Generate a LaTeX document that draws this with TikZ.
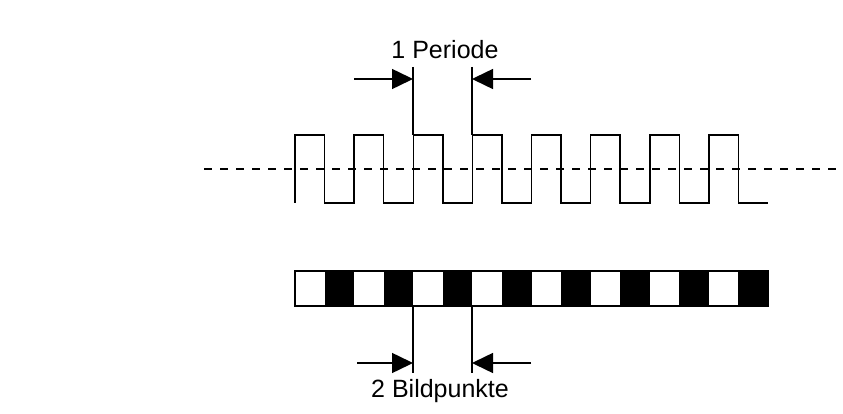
\documentclass[tikz,border=0pt]{standalone}
\usepackage{fontspec}
\setmainfont{Liberation Sans}
\usetikzlibrary{arrows.meta}
\begin{document}
\begin{tikzpicture}[x=1pt,y=-1pt,
  ln/.style={line width=1.5pt},
  dim/.style={line width=1.5pt,-{Triangle[length=21pt,width=20pt]}},
  lbl/.style={font=\fontsize{25}{29}\selectfont,inner sep=0pt}]
\useasboundingbox (0,0) rectangle (843,414);
\def\h{29.5625}
% dashed centre line
\draw[line width=1.6pt,dash pattern=on 8pt off 8pt] (204,169) -- (838,169);
% square wave
\draw[ln] (295,203)
  \foreach \i in {0,...,7}{
    -- ({295+2*\i*\h},135) -- ({295+(2*\i+1)*\h},135)
    -- ({295+(2*\i+1)*\h},203) -- ({295+(2*\i+2)*\h},203)
  };
% pixel bar
\foreach \i in {0,...,7}{
  \fill ({295+(2*\i+1)*\h},271) rectangle ({295+(2*\i+2)*\h},306);
}
\draw[ln] (295,271) rectangle (768,306);
% top dimension
\coordinate (t1a) at (413,67);
\coordinate (t1b) at (413,135);
\coordinate (t2a) at (472,67);
\coordinate (t2b) at (472,135);
\draw[ln] (t1a) -- (t1b);
\draw[ln] (t2a) -- (t2b);
\coordinate (ta) at (354,79);
\coordinate (tat) at (413,79);
\coordinate (tb) at (531,79);
\coordinate (tbt) at (472,79);
\draw[dim] (ta) -- (tat);
\draw[dim] (tb) -- (tbt);
\node[lbl] (per) at (445,50) {1 Periode};
% bottom dimension
\coordinate (b1a) at (413,306);
\coordinate (b1b) at (413,373);
\coordinate (b2a) at (472,306);
\coordinate (b2b) at (472,373);
\draw[ln] (b1a) -- (b1b);
\draw[ln] (b2a) -- (b2b);
\coordinate (ba) at (357,363);
\coordinate (bat) at (413,363);
\coordinate (bb) at (531,363);
\coordinate (bbt) at (472,363);
\draw[dim] (ba) -- (bat);
\draw[dim] (bb) -- (bbt);
\node[lbl] (bp) at (440,391) {2 Bildpunkte};
\end{tikzpicture}
\end{document}
